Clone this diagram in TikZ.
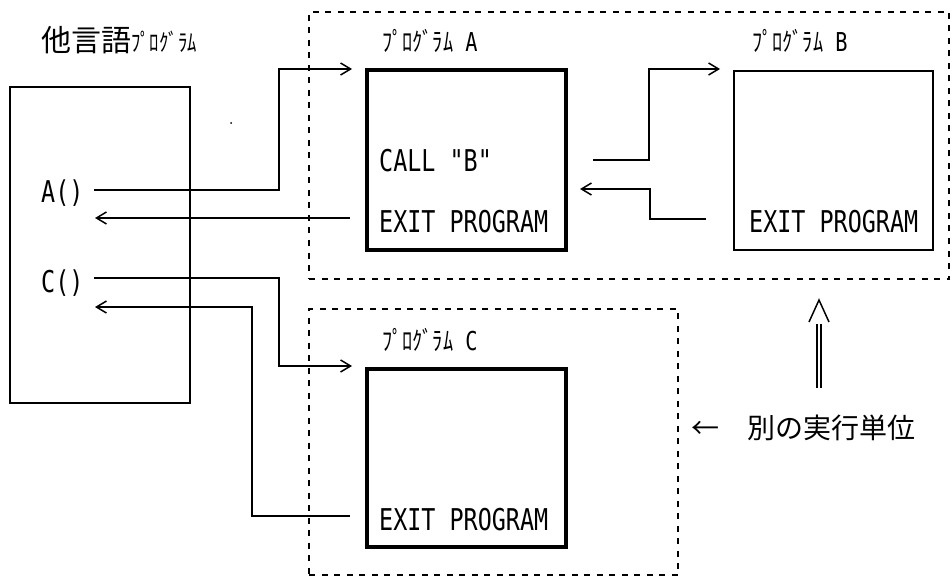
\documentclass[tikz,border=0pt]{standalone}
\usepackage{fontspec}
\newfontfamily\cjk{Noto Sans CJK JP}
\newfontfamily\kanaf[FakeStretch=0.78]{Noto Sans CJK JP}
\newfontfamily\monof[FakeStretch=0.78]{DejaVu Sans Mono}
\usetikzlibrary{arrows.meta}
\begin{document}
\begin{tikzpicture}[x=1pt,y=-1pt,
  wire/.style={line width=1.5pt},
  conn/.style={line width=1.5pt,-{Straight Barb[length=10pt,width=12pt,line width=1.5pt]}},
  unitbox/.style={draw,line width=1.5pt,dash pattern=on 6pt off 6.5pt,inner sep=0pt,outer sep=0pt},
  hostbox/.style={draw,line width=2pt,inner sep=0pt,outer sep=0pt},
  progbox/.style={draw,line width=3.5pt,inner sep=0pt,outer sep=0pt},
  progboxthin/.style={draw,line width=2.5pt,inner sep=0pt,outer sep=0pt},
  mono/.style={font=\monof\fontsize{30}{30}\selectfont,inner sep=0pt,anchor=base west},
  kana/.style={font=\kanaf\fontsize{26}{26}\selectfont,inner sep=0pt,anchor=base west},
  big/.style={font=\cjk\fontsize{28}{28}\selectfont,inner sep=0pt,anchor=base west}]
\useasboundingbox (0,0) rectangle (952,577);
\fill[white] (0,0) rectangle (952,577);

% boxes
\node[hostbox,minimum width=180pt,minimum height=316pt] (host) at (100,245) {};
\node[unitbox,minimum width=640pt,minimum height=267pt] (unitAB) at (629,145.5) {};
\node[unitbox,minimum width=369pt,minimum height=266pt] (unitC) at (493.5,442) {};
\node[progbox,minimum width=199pt,minimum height=180pt] (progA) at (466.5,160) {};
\node[progboxthin,minimum width=199pt,minimum height=179pt] (progB) at (833.5,160.5) {};
\node[progbox,minimum width=199pt,minimum height=178pt] (progC) at (466.5,458) {};

% texts
\node[big,font=\cjk\fontsize{30}{30}\selectfont] (title) at (41,52) {他言語{\kanaf\fontsize{24}{24}\selectfont ﾌﾟﾛｸﾞﾗﾑ}};
\node[mono] (acall) at (41,203) {A()};
\node[mono] (ccall) at (41,292) {C()};
\node[kana] (labA) at (382,52) {ﾌﾟﾛｸﾞﾗﾑ{\monof\fontsize{26}{26}\selectfont{} A}};
\node[kana] (labB) at (752,52) {ﾌﾟﾛｸﾞﾗﾑ{\monof\fontsize{26}{26}\selectfont{} B}};
\node[kana] (labC) at (382,350) {ﾌﾟﾛｸﾞﾗﾑ{\monof\fontsize{26}{26}\selectfont{} C}};
\node[mono] (callB) at (379,172) {CALL "B"};
\node[mono] (exitA) at (379,233) {EXIT PROGRAM};
\node[mono] (exitB) at (749,233) {EXIT PROGRAM};
\node[mono] (exitC) at (379,530) {EXIT PROGRAM};
\node[big] (note) at (691,438) {←　別の実行単位};

% connector end points
\coordinate (a1) at (94,190);
\coordinate (a2) at (352,69);
\coordinate (a3) at (350,218);
\coordinate (a4) at (95,218);
\coordinate (b1) at (593,160);
\coordinate (b2) at (720,69);
\coordinate (b3) at (706,219);
\coordinate (b4) at (580,189);
\coordinate (c1) at (94,278);
\coordinate (c2) at (352,366);
\coordinate (c3) at (350,516);
\coordinate (c4) at (95,307);

\draw[conn] (a1) -- (279,190) |- (a2);
\draw[conn] (a3) -- (a4);
\draw[conn] (b1) -- (649,160) |- (b2);
\draw[conn] (b3) -- (650,219) |- (b4);
\draw[conn] (c1) -- (279,278) |- (c2);
\draw[conn] (c3) -- (252,516) |- (c4);

% double up arrow
\coordinate (u2) at (819,300);
\draw[line width=1.3pt] (817,388) -- (817,324) (821,388) -- (821,324);
\draw[line width=1.5pt,line join=miter] (809,322) -- (u2) -- (829,322);

% stray dot
\fill (231,123) circle (1pt);
\end{tikzpicture}
\end{document}
